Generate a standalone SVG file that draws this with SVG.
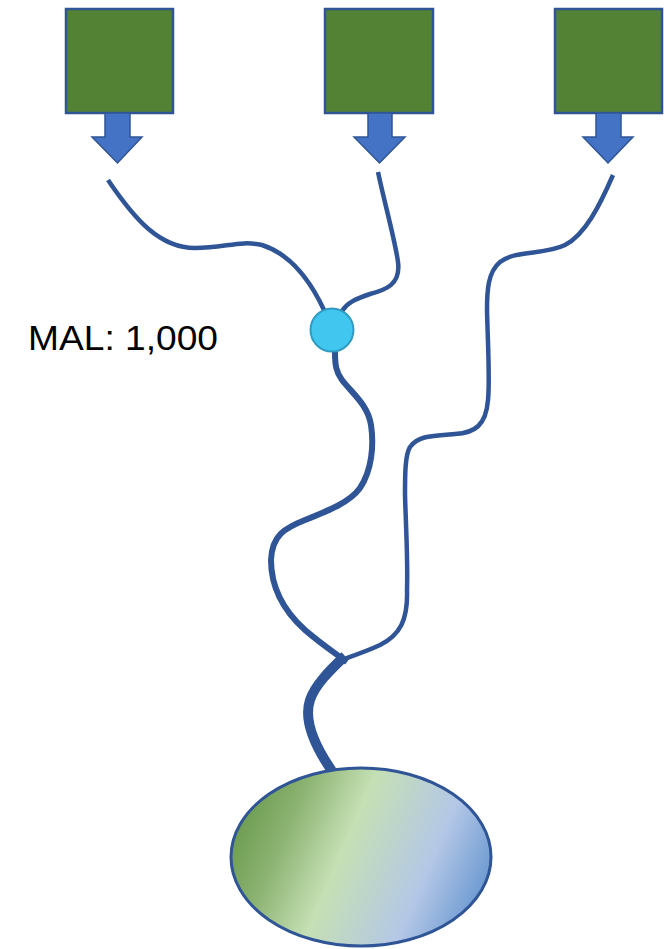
<svg xmlns="http://www.w3.org/2000/svg" width="664" height="949" viewBox="0 0 664 949">
  <style>
    .src rect { fill: #548235; stroke: #2f5597; stroke-width: 2.5; }
    .src path { fill: #4472c4; stroke: #2f5597; stroke-width: 1.5; stroke-linejoin: miter; }
    .stream { fill: none; stroke: #2f5597; stroke-linecap: butt; stroke-linejoin: round; }
    .thin { stroke-width: 4.5; }
    .mid { stroke-width: 6; }
    .thick { stroke-width: 10; }
    .label { font-family: "Liberation Sans", Arial, sans-serif; font-size: 35px; fill: #000; }
  </style>
  <defs>
    <linearGradient id="lakeFill" gradientUnits="userSpaceOnUse" x1="235" y1="805" x2="490" y2="915">
      <stop offset="0" stop-color="#66984a"/>
      <stop offset="0.2" stop-color="#8bb271"/>
      <stop offset="0.42" stop-color="#c5e0b4"/>
      <stop offset="0.73" stop-color="#b4c7e7"/>
      <stop offset="1" stop-color="#5a8fcc"/>
    </linearGradient>
  </defs>

  <!-- connectors -->
  <g id="connectors">
    <path class="stream thin" d="M108,180 C135,220 160,248 195,248 C225,248 240,240 262,245 C290,254 310,280 324,310"/>
    <path class="stream thin" d="M378,172 C385,205 395,240 398,262 C401,285 385,290 370,294 C355,299 347,303 342,311"/>
    <path class="stream thin" d="M613,175 C600,205 585,235 565,245 C545,255 515,250 500,262 C488,272 487,290 487,310 C488,350 490,380 488,400 C486,425 475,433 455,434 C430,436 418,436 410,447 C405,455 405,475 405,495 C406,530 408,560 407,590 C408,620 400,635 380,645 C365,652 355,655 341,660"/>
    <path class="stream mid" d="M335,352 C335,365 336,372 342,380 C352,393 368,405 371,425 C374,445 372,470 360,488 C350,502 330,510 305,520 C285,528 272,535 271,560 C271,590 285,612 305,630 C320,643 332,651 347,662"/>
    <path class="stream thick" d="M345,656 C330,670 315,685 310,700 C304,718 312,742 332,771"/>
  </g>

  <!-- sources -->
  <g id="source-1" class="src">
    <rect x="66" y="9" width="107" height="104"/>
    <path d="M105,113 H130 V137 H142 L117.5,163 L92,137 H105 Z"/>
  </g>
  <g id="source-2" class="src">
    <rect x="325" y="9" width="108" height="104"/>
    <path d="M368,113 H392 V137 H405 L379.5,163 L354,137 H368 Z"/>
  </g>
  <g id="source-3" class="src">
    <rect x="555" y="9" width="107" height="104"/>
    <path d="M596,113 H621 V137 H633 L608,163 L583,137 H596 Z"/>
  </g>

  <!-- junction point -->
  <g id="junction">
    <circle cx="332" cy="330" r="21.5" fill="#41c6f0" stroke="#2e9bc2" stroke-width="2"/>
  </g>

  <g id="mal-label">
    <text class="label" x="28" y="350" textLength="190" lengthAdjust="spacingAndGlyphs">MAL: 1,000</text>
  </g>

  <!-- receiving lake -->
  <g id="lake">
    <ellipse cx="361" cy="857" rx="130" ry="89" fill="url(#lakeFill)" stroke="#2f5597" stroke-width="3"/>
  </g>
</svg>
